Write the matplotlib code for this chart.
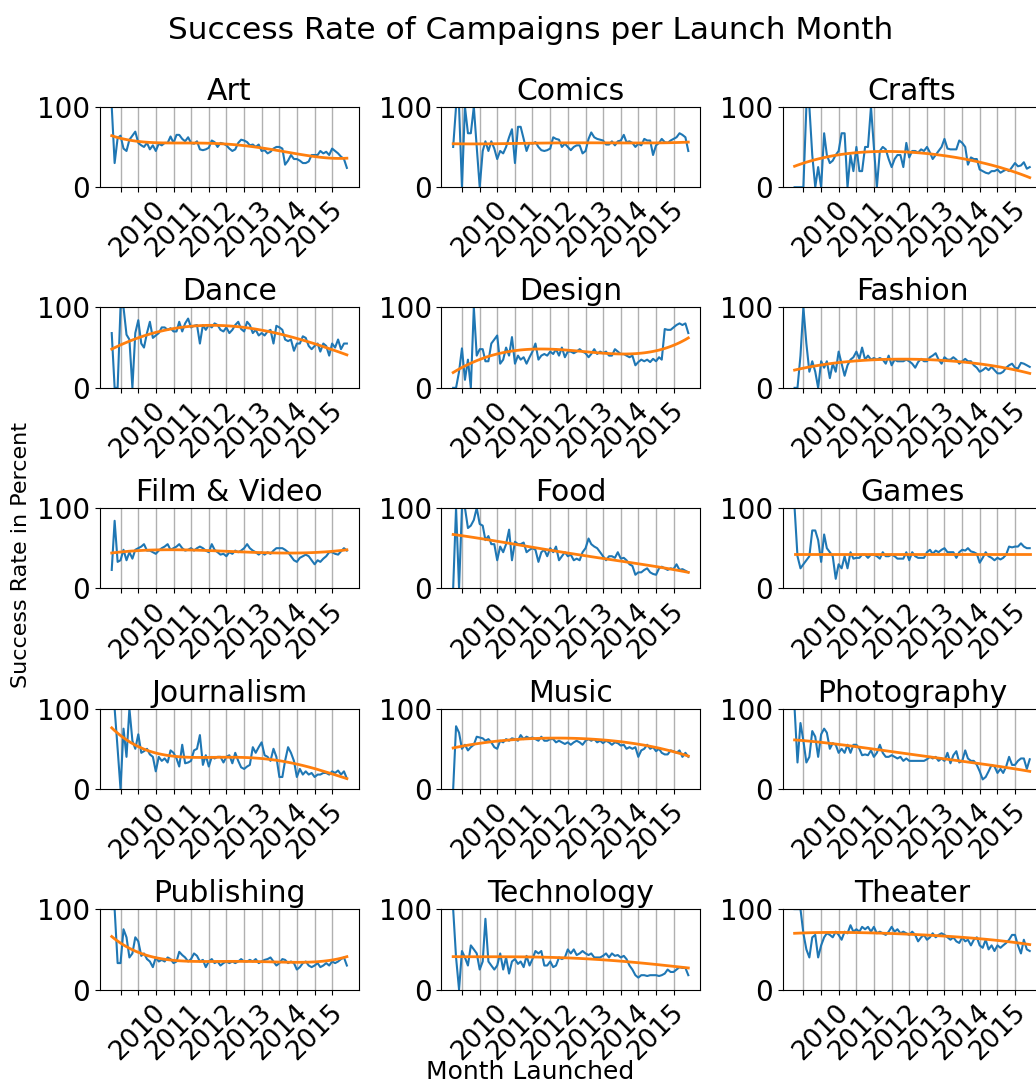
import numpy as np
import pandas as pd
import matplotlib
matplotlib.use("Agg")
import matplotlib.pyplot as plt
import matplotlib.dates as mdates

# monthly success rates (%), April 2009 .. December 2015
months = pd.date_range("2009-04-01", periods=81, freq="MS")

categories = ["Art", "Comics", "Crafts", "Dance", "Design", "Fashion",
              "Film & Video", "Food", "Games", "Journalism", "Music",
              "Photography", "Publishing", "Technology", "Theater"]

art = [100, 30, 61, 64, 48, 45, 59, 64, 69, 55,
       52, 50, 55, 47, 52, 45, 54, 52, 55, 55,
       63, 55, 65, 65, 60, 57, 62, 55, 54, 57,
       47, 46, 47, 49, 58, 56, 50, 55, 54, 52,
       48, 45, 47, 55, 59, 58, 56, 52, 53, 50,
       53, 45, 46, 42, 44, 48, 50, 50, 48, 28,
       33, 40, 35, 35, 33, 30, 30, 32, 40, 40,
       40, 45, 42, 44, 40, 48, 45, 42, 38, 35,
       24]
comics = [50, 100, 100, 0, 100, 67, 67, 100, 50, 0,
          45, 57, 45, 57, 48, 35, 45, 42, 50, 62,
          72, 30, 75, 75, 60, 45, 55, 54, 56, 50,
          46, 45, 46, 48, 62, 60, 59, 50, 54, 50,
          46, 50, 52, 52, 42, 45, 60, 68, 62, 60,
          59, 58, 53, 53, 57, 52, 57, 58, 65, 56,
          57, 55, 50, 54, 52, 60, 58, 58, 40, 52,
          55, 60, 56, 55, 58, 60, 62, 67, 65, 62,
          45]
crafts = [0, 0, 0, 0, 100, 100, 40, 0, 25, 0,
          67, 40, 30, 33, 40, 45, 67, 67, 0, 40,
          20, 50, 20, 20, 50, 50, 100, 50, 0, 45,
          50, 47, 35, 25, 35, 40, 40, 25, 55, 37,
          45, 45, 43, 47, 45, 50, 43, 35, 40, 45,
          50, 60, 48, 47, 47, 47, 58, 55, 50, 28,
          37, 35, 35, 22, 20, 18, 17, 20, 20, 22,
          18, 20, 22, 20, 25, 30, 26, 27, 31, 23,
          25]
dance = [68, 0, 0, 100, 100, 66, 60, 0, 68, 84,
         55, 50, 68, 82, 62, 65, 68, 75, 75, 72,
         74, 70, 70, 82, 70, 80, 86, 75, 77, 78,
         55, 78, 72, 78, 75, 80, 78, 72, 70, 75,
         68, 72, 78, 82, 73, 70, 82, 78, 68, 72,
         65, 68, 65, 70, 72, 55, 77, 75, 72, 60,
         58, 60, 46, 55, 55, 64, 62, 52, 48, 52,
         55, 45, 55, 52, 40, 55, 50, 60, 48, 55,
         55]
design = [0, 0, 20, 49, 10, 35, 0, 100, 40, 48,
          48, 33, 33, 55, 60, 65, 30, 35, 50, 40,
          63, 30, 40, 35, 38, 30, 38, 45, 55, 35,
          40, 42, 40, 45, 42, 48, 40, 50, 38, 45,
          45, 43, 45, 48, 45, 43, 38, 42, 48, 42,
          45, 43, 45, 40, 40, 48, 45, 42, 42, 40,
          38, 40, 28, 32, 35, 33, 35, 32, 36, 33,
          38, 35, 73, 72, 72, 75, 78, 80, 78, 80,
          68]
fashion = [0, 0, 40, 100, 55, 20, 33, 20, 0, 33,
           25, 33, 12, 30, 20, 45, 30, 15, 28, 35,
           38, 45, 36, 50, 35, 40, 35, 37, 35, 37,
           35, 30, 40, 28, 35, 33, 33, 33, 35, 33,
           30, 25, 32, 36, 33, 33, 38, 40, 43, 35,
           30, 38, 35, 35, 38, 35, 30, 33, 36, 33,
           33, 28, 25, 20, 22, 25, 22, 26, 22, 18,
           18, 20, 25, 28, 30, 25, 24, 31, 30, 28,
           26]
film = [23, 84, 33, 35, 48, 35, 45, 37, 48, 50,
        52, 55, 47, 47, 45, 43, 47, 50, 52, 55,
        48, 50, 52, 55, 50, 47, 48, 50, 47, 50,
        52, 50, 47, 45, 55, 48, 45, 42, 43, 40,
        45, 43, 47, 45, 47, 50, 55, 50, 47, 45,
        42, 45, 42, 45, 43, 47, 50, 50, 50, 48,
        45, 40, 35, 33, 38, 40, 42, 40, 35, 30,
        35, 33, 37, 40, 45, 45, 43, 42, 46, 50,
        47]
food = [0, 100, 0, 100, 100, 75, 78, 85, 100, 80,
        78, 60, 65, 55, 55, 35, 52, 45, 55, 73,
        35, 58, 55, 55, 57, 45, 48, 50, 48, 33,
        45, 48, 40, 50, 45, 52, 35, 40, 45, 40,
        42, 35, 37, 35, 45, 50, 62, 55, 52, 50,
        45, 40, 35, 40, 40, 38, 45, 37, 38, 35,
        30, 28, 17, 20, 20, 23, 25, 20, 18, 17,
        25, 27, 25, 23, 25, 24, 30, 23, 24, 22,
        20]
games = [100, 40, 25, 30, 35, 40, 72, 72, 60, 33,
         67, 50, 45, 40, 12, 30, 25, 40, 25, 45,
         37, 38, 38, 42, 42, 38, 42, 42, 40, 37,
         45, 40, 40, 42, 40, 37, 37, 37, 45, 35,
         45, 40, 38, 38, 38, 45, 48, 43, 47, 45,
         48, 50, 45, 45, 45, 38, 45, 48, 47, 50,
         46, 45, 43, 32, 38, 45, 40, 38, 35, 38,
         36, 38, 42, 52, 51, 52, 52, 56, 52, 50,
         50]
journalism = [100, 100, 50, 0, 75, 40, 100, 60, 50, 68,
              45, 47, 50, 43, 40, 22, 40, 35, 38, 33,
              48, 45, 38, 28, 55, 32, 33, 35, 48, 50,
              67, 30, 42, 28, 40, 38, 40, 40, 33, 40,
              42, 32, 45, 35, 27, 25, 28, 30, 52, 45,
              52, 58, 42, 40, 35, 50, 40, 15, 15, 35,
              52, 45, 35, 15, 25, 18, 22, 18, 20, 15,
              18, 18, 20, 20, 18, 22, 20, 23, 18, 22,
              13]
music = [0, 78, 70, 50, 55, 48, 52, 55, 65, 64,
         63, 60, 62, 58, 52, 50, 60, 58, 62, 60,
         63, 62, 60, 67, 62, 65, 63, 64, 62, 60,
         65, 60, 60, 62, 62, 58, 60, 58, 56, 58,
         55, 58, 60, 58, 55, 60, 62, 60, 62, 58,
         60, 57, 60, 58, 55, 58, 57, 54, 55, 50,
         52, 50, 52, 40, 48, 50, 55, 50, 52, 47,
         50, 45, 43, 43, 48, 47, 45, 48, 40, 45,
         40]
photography = [100, 33, 82, 60, 33, 40, 72, 65, 40, 68,
               75, 70, 50, 57, 55, 45, 50, 45, 55, 45,
               55, 55, 50, 42, 43, 42, 48, 40, 45, 55,
               45, 40, 40, 42, 40, 38, 40, 35, 38, 35,
               35, 35, 35, 35, 35, 37, 40, 38, 40, 35,
               38, 35, 45, 32, 42, 47, 33, 35, 48, 38,
               35, 35, 30, 22, 12, 15, 22, 30, 28, 20,
               25, 20, 28, 40, 30, 30, 35, 38, 38, 25,
               37]
publishing = [100, 100, 33, 33, 75, 65, 40, 45, 65, 60,
              42, 45, 38, 35, 28, 40, 35, 37, 35, 40,
              38, 33, 35, 47, 43, 40, 35, 38, 45, 42,
              35, 37, 28, 35, 38, 33, 35, 30, 33, 35,
              33, 35, 33, 35, 38, 35, 35, 37, 35, 38,
              33, 35, 37, 38, 40, 35, 30, 33, 38, 37,
              33, 35, 33, 25, 28, 33, 35, 30, 28, 30,
              33, 28, 30, 33, 30, 35, 33, 35, 38, 40,
              30]
technology = [100, 40, 0, 48, 40, 30, 55, 50, 45, 25,
              35, 88, 35, 30, 25, 30, 45, 25, 40, 20,
              35, 38, 32, 35, 28, 42, 30, 38, 48, 45,
              48, 30, 30, 35, 28, 30, 40, 38, 40, 50,
              45, 50, 43, 45, 48, 45, 43, 45, 40, 40,
              40, 42, 45, 40, 45, 42, 43, 40, 42, 38,
              30, 25, 18, 15, 18, 18, 17, 18, 18, 18,
              17, 18, 20, 25, 22, 22, 25, 28, 27, 27,
              18]
theater = [100, 100, 100, 70, 50, 40, 65, 68, 40, 55,
           65, 70, 68, 65, 72, 68, 62, 72, 70, 80,
           72, 75, 72, 78, 75, 78, 72, 78, 70, 72,
           70, 68, 72, 78, 72, 75, 70, 72, 70, 68,
           72, 68, 60, 65, 68, 62, 65, 70, 65, 68,
           70, 68, 65, 62, 65, 60, 58, 65, 60, 62,
           55, 62, 65, 55, 52, 62, 50, 55, 48, 55,
           52, 55, 58, 62, 68, 68, 55, 45, 62, 50,
           48]

rates = [art, comics, crafts, dance, design, fashion, film, food, games,
         journalism, music, photography, publishing, technology, theater]

trend_idx = [0, 16, 32, 48, 64, 80]
trend_art = [64, 55, 55, 50, 41, 36]
trend_comics = [54, 54, 55, 55, 55, 56]
trend_crafts = [26, 41, 44, 41, 30, 12]
trend_dance = [48, 70, 77, 74, 60, 41]
trend_design = [19, 43, 48, 44, 43, 62]
trend_fashion = [22, 32, 35, 35, 29, 18]
trend_film = [44, 48, 47, 45, 44, 48]
trend_food = [67, 58, 48, 39, 30, 20]
trend_games = [43, 43, 43, 43, 43, 43]
trend_journalism = [76, 44, 39, 39, 30, 13]
trend_music = [51, 60, 63, 62, 55, 41]
trend_photography = [61, 55, 47, 39, 31, 22]
trend_publishing = [66, 39, 35, 35, 34, 41]
trend_technology = [41, 41, 40, 38, 33, 27]
trend_theater = [70, 71, 70, 67, 63, 56]

trends = [trend_art, trend_comics, trend_crafts, trend_dance, trend_design,
          trend_fashion, trend_film, trend_food, trend_games, trend_journalism,
          trend_music, trend_photography, trend_publishing, trend_technology,
          trend_theater]

plt.rcParams["font.family"] = "DejaVu Sans"

fig, axes = plt.subplots(5, 3, figsize=(10.36, 10.84), dpi=100)
fig.subplots_adjust(left=0.0965, right=1.0053, bottom=0.087, top=0.9016,
                    wspace=0.32, hspace=1.49)

steps = np.arange(len(months))
jan_ticks = [m for m in months if m.month == 1]
jul_ticks = [m for m in months if m.month == 7]

for ax, name, vals, tr in zip(axes.flat, categories, rates, trends):
    coef = np.polyfit(trend_idx, tr, 4)
    ax.plot(months, vals, color="#1f77b4", lw=1.5)
    ax.plot(months, np.polyval(coef, steps), color="#ff7f0e", lw=2)
    ax.set_title(name, fontsize=21.5, pad=5)
    ax.set_ylim(0, 100)
    ax.set_yticks([0, 100])
    ax.xaxis.set_major_locator(matplotlib.ticker.FixedLocator(mdates.date2num(jan_ticks)))
    ax.xaxis.set_minor_locator(matplotlib.ticker.FixedLocator(mdates.date2num(jul_ticks)))
    ax.xaxis.set_major_formatter(mdates.DateFormatter("%Y"))
    ax.grid(axis="x", which="both", color="#b0b0b0", lw=1.0)
    ax.tick_params(axis="x", which="both", length=3.5, width=0.8)
    ax.tick_params(axis="x", labelsize=19, labelrotation=45)
    ax.tick_params(axis="y", labelsize=20)

fig.suptitle("Success Rate of Campaigns per Launch Month", fontsize=22.5,
             x=0.5125, y=0.972, va="center")
fig.text(0.02, 0.488, "Success Rate in Percent", rotation=90, fontsize=16,
         ha="center", va="center")
fig.text(0.512, 0.011, "Month Launched", fontsize=18, ha="center", va="center")

fig.savefig("out.png", dpi=100)
